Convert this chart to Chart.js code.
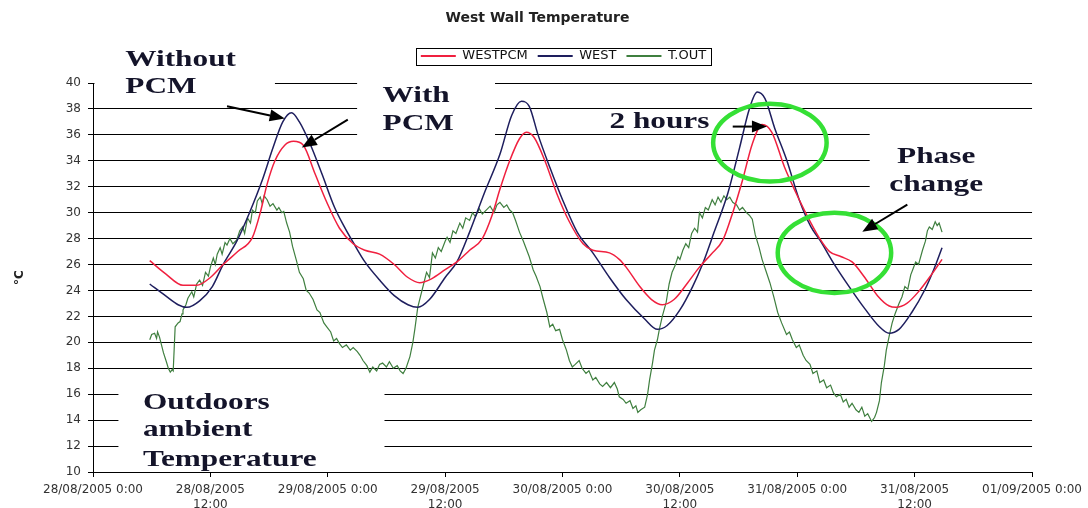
<!DOCTYPE html>
<html>
<head>
<meta charset="utf-8">
<script src="https://cdn.jsdelivr.net/npm/chart.js@4.4.1/dist/chart.umd.min.js"></script>
<style>
  body { margin: 0; background: #fff; }
  canvas { display: block; }
</style>
</head>
<body>
<canvas id="wallChart" width="1088" height="508"></canvas>
<script>
// hours since 28/08/2005 0:00, temperature in °C
const westPcm = [
    [5.8,26.3],[7.4,25.3],[9.2,24.4],[10.6,24.4],[12.0,25.0],[13.3,26.0],[14.8,27.0],[16.3,28.1],
    [17.1,30.0],[17.8,32.2],[18.6,34.0],[19.6,35.2],[20.5,35.5],[21.5,35.2],[22.7,33.0],[23.9,30.8],
    [25.2,28.8],[26.6,27.6],[27.8,27.1],[29.3,26.8],[30.8,26.0],[32.2,25.0],[33.4,24.6],[34.6,24.9],
    [36.0,25.6],[37.2,26.2],[38.5,27.1],[39.8,28.0],[40.8,29.8],[41.6,31.8],[42.6,34.0],[43.6,35.7],
    [44.3,36.2],[45.1,35.8],[46.2,34.0],[47.4,31.5],[48.7,29.3],[50.1,27.6],[51.1,27.1],[52.8,26.9],
    [53.8,26.4],[54.5,25.8],[55.9,24.3],[57.1,23.3],[58.2,22.9],[59.4,23.3],[60.8,24.6],[62.0,25.8],
    [63.2,26.8],[64.4,27.9],[65.4,30.0],[66.4,32.5],[67.4,35.3],[68.4,36.8],[69.4,36.2],[70.7,33.5],
    [72.2,31.0],[73.4,29.2],[74.3,28.0],[75.3,27.0],[76.5,26.6],[77.6,26.2],[78.9,25.0],[80.2,23.6],
    [81.4,22.8],[82.1,22.7],[83.2,23.0],[84.5,24.0],[85.7,25.2],[86.8,26.4]
];

const west = [
    [5.8,24.5],[7.4,23.6],[8.7,22.9],[9.6,22.7],[10.9,23.2],[12.2,24.3],[13.3,26.0],[14.7,27.8],
    [16.0,30.0],[17.3,32.5],[18.4,35.0],[19.4,37.0],[20.3,37.7],[21.1,37.0],[22.2,35.3],[23.4,33.0],
    [24.7,30.4],[25.7,28.9],[26.6,27.7],[27.8,26.2],[29.3,24.8],[30.8,23.6],[32.2,22.9],[33.2,22.7],
    [34.4,23.3],[36.0,25.0],[37.2,26.2],[38.5,28.5],[40.0,31.5],[41.6,34.5],[42.8,37.5],[43.8,38.6],
    [44.6,38.2],[45.5,36.0],[46.7,33.5],[48.0,31.0],[49.5,28.5],[51.1,26.9],[52.8,25.0],[54.5,23.3],
    [56.4,21.8],[57.7,21.0],[58.7,21.3],[60.0,22.5],[61.3,24.3],[62.3,26.0],[63.5,28.5],[64.9,31.5],
    [66.1,35.0],[67.1,38.0],[67.9,39.3],[68.7,38.8],[69.7,36.5],[70.9,34.1],[72.2,31.0],[73.4,28.9],
    [74.3,27.9],[75.8,26.0],[77.3,24.3],[78.9,22.6],[80.4,21.2],[81.4,20.7],[82.4,21.0],[83.7,22.3],
    [85.0,24.0],[86.0,25.7],[86.8,27.3]
];

const tOut = [
    [5.8,20.2],[6.0,20.6],[6.3,20.7],[6.5,20.3],[6.6,20.8],[6.8,20.4],[7.0,19.8],[7.2,19.2],[7.5,18.5],
    [7.7,18.0],[7.9,17.7],[8.1,17.9],[8.2,17.8],[8.3,19.5],[8.4,21.2],[8.7,21.5],[8.9,21.6],[9.1,22.2],
    [9.2,22.5],[9.5,22.9],[9.7,23.4],[10.1,23.9],[10.3,23.5],[10.6,24.5],[10.9,24.8],[11.2,24.4],
    [11.5,25.4],[11.8,25.1],[12.0,25.8],[12.3,26.5],[12.5,26.0],[12.7,26.8],[13.0,27.3],[13.2,26.8],
    [13.5,27.7],[13.7,27.5],[14.0,28.0],[14.3,27.6],[14.7,27.9],[15.0,28.6],[15.3,28.9],[15.5,28.4],
    [15.8,29.6],[16.1,29.2],[16.3,30.2],[16.6,30.0],[16.8,30.9],[17.1,31.2],[17.3,30.7],[17.5,31.3],
    [17.8,31.0],[18.1,30.5],[18.4,30.7],[18.8,30.2],[19.0,30.4],[19.3,30.0],[19.5,30.1],[19.8,29.2],
    [20.1,28.5],[20.4,27.4],[20.8,26.3],[21.1,25.4],[21.5,24.9],[21.8,24.0],[22.1,23.8],[22.5,23.3],
    [22.9,22.5],[23.2,22.3],[23.6,21.5],[23.9,21.2],[24.3,20.8],[24.6,20.1],[24.9,20.3],[25.2,19.9],
    [25.5,19.6],[25.9,19.8],[26.3,19.4],[26.6,19.6],[27.0,19.3],[27.3,19.0],[27.6,18.6],[28.0,18.2],
    [28.3,17.7],[28.6,18.1],[29.0,17.8],[29.3,18.3],[29.6,18.4],[30.0,18.1],[30.3,18.5],[30.7,18.0],
    [31.1,18.2],[31.4,17.8],[31.7,17.6],[32.0,18.0],[32.4,18.9],[32.7,20.0],[32.9,21.0],[33.2,22.7],
    [33.5,23.6],[33.8,24.5],[34.1,25.4],[34.4,25.0],[34.7,26.9],[35.0,26.5],[35.3,27.3],[35.6,27.0],
    [36.0,27.8],[36.2,28.1],[36.5,27.7],[36.8,28.6],[37.1,28.4],[37.5,29.2],[37.8,28.8],[38.1,29.6],
    [38.5,29.4],[38.8,30.0],[39.1,29.7],[39.5,30.3],[39.8,29.9],[40.2,30.2],[40.6,30.5],[41.0,30.0],
    [41.3,30.6],[41.6,30.8],[42.0,30.4],[42.3,30.6],[42.6,30.2],[42.9,30.0],[43.2,29.4],[43.6,28.5],
    [44.0,27.8],[44.3,27.2],[44.6,26.6],[45.0,25.6],[45.3,25.1],[45.7,24.3],[46.0,23.4],[46.4,22.3],
    [46.7,21.2],[47.0,21.4],[47.3,20.9],[47.7,21.0],[48.0,20.2],[48.4,19.4],[48.7,18.6],[49.0,18.1],
    [49.3,18.3],[49.7,18.6],[50.0,18.0],[50.4,17.6],[50.7,17.8],[51.1,17.1],[51.4,17.3],[51.8,16.8],
    [52.1,16.6],[52.5,16.9],[52.9,16.5],[53.3,16.9],[53.6,16.4],[53.8,15.8],[54.2,15.6],[54.5,15.3],
    [54.9,15.5],[55.2,14.9],[55.5,15.1],[55.7,14.6],[56.0,14.8],[56.4,15.0],[56.7,16.0],[56.9,17.1],
    [57.2,18.4],[57.4,19.4],[57.7,20.2],[57.9,21.0],[58.2,22.0],[58.6,23.1],[58.9,24.5],[59.2,25.4],
    [59.5,25.9],[59.8,26.6],[60.0,26.4],[60.3,27.1],[60.6,27.6],[60.9,27.3],[61.2,28.4],[61.5,28.8],
    [61.8,28.5],[62.0,30.0],[62.3,29.6],[62.6,30.4],[62.9,30.2],[63.3,31.0],[63.6,30.6],[63.9,31.2],
    [64.2,30.8],[64.5,31.3],[64.8,31.0],[65.1,31.2],[65.4,30.8],[65.8,30.6],[66.1,30.2],[66.4,30.4],
    [66.8,30.0],[67.1,29.8],[67.4,29.5],[67.7,28.3],[68.1,27.3],[68.4,26.4],[68.8,25.5],[69.2,24.6],
    [69.6,23.5],[70.0,22.3],[70.4,21.5],[70.9,20.6],[71.2,20.8],[71.5,20.2],[71.9,19.6],[72.2,19.8],
    [72.6,19.0],[72.9,18.6],[73.3,18.3],[73.6,17.6],[74.0,17.8],[74.3,16.9],[74.7,17.1],[75.0,16.5],
    [75.4,16.7],[75.7,16.1],[76.0,15.8],[76.4,16.0],[76.7,15.4],[77.0,15.6],[77.3,15.0],[77.6,15.3],
    [78.0,14.8],[78.3,14.6],[78.6,15.0],[78.9,14.3],[79.2,14.5],[79.6,13.9],[79.9,14.2],[80.1,14.6],
    [80.4,15.5],[80.6,16.9],[80.9,18.2],[81.1,19.4],[81.4,20.5],[81.7,21.5],[82.0,22.2],[82.4,23.0],
    [82.7,23.5],[83.0,24.3],[83.3,24.1],[83.6,25.2],[83.8,25.6],[84.1,26.2],[84.4,26.0],[84.8,27.1],
    [85.1,27.8],[85.3,28.6],[85.5,28.9],[85.8,28.7],[86.1,29.3],[86.3,29.0],[86.5,29.2],[86.8,28.5]
];

const tickLabels = [
    '28/08/2005 0:00', ['28/08/2005', '12:00'],
    '29/08/2005 0:00', ['29/08/2005', '12:00'],
    '30/08/2005 0:00', ['30/08/2005', '12:00'],
    '31/08/2005 0:00', ['31/08/2005', '12:00'],
    '01/09/2005 0:00'
];

// annotation text, placed in data units (hour, °C)
const noteTexts = [
    { text: 'Without', h: 3.3, v: 41.8 },
    { text: 'PCM', h: 3.3, v: 39.65 },
    { text: 'With', h: 29.6, v: 38.96 },
    { text: 'PCM', h: 29.6, v: 36.8 },
    { text: '2 hours', h: 52.8, v: 37.0 },
    { text: 'Phase', h: 86.2, v: 34.3, align: 'center' },
    { text: 'change', h: 86.2, v: 32.1, align: 'center' },
    { text: 'Outdoors', h: 5.1, v: 15.3 },
    { text: 'ambient', h: 5.1, v: 13.2 },
    { text: 'Temperature', h: 5.1, v: 10.9 }
];
const noteArrows = [
    [13.7, 38.2, 19.6, 37.26],
    [26.05, 37.18, 21.35, 35.02],
    [65.4, 36.64, 68.9, 36.64],
    [83.25, 30.62, 78.65, 28.53]
];
const noteRings = [
    [69.2, 35.4, 5.8, 3.0],
    [75.8, 26.9, 5.8, 3.1]
];
// white text boxes that hide parts of the gridlines: h0, h1, v0, v1
const textBoxes = [
    [0.15, 18.6, 38.5, 40.6],
    [27.0, 41.1, 34.9, 40.6],
    [79.4, 96.5, 30.6, 37.2],
    [2.6, 29.8, 10.15, 17.1]
];

const toXY = arr => arr.map(p => ({ x: p[0], y: p[1] }));

const notesPlugin = {
    id: 'notes',
    afterLayout(chart) {
        // the scanned figure has its header a bit right of centre
        const shift = (box, dx) => {
            box.left += dx;
            box.right += dx;
            (box.legendHitBoxes || []).forEach(h => { h.left += dx; });
        };
        shift(chart.titleBlock, 21);
        shift(chart.legend, 47);
    },
    beforeDatasetsDraw(chart) {
        const { ctx, scales: { x, y } } = chart;
        ctx.save();
        ctx.fillStyle = '#fff';
        textBoxes.forEach(b => {
            const x0 = x.getPixelForValue(b[0]), x1 = x.getPixelForValue(b[1]);
            const y0 = y.getPixelForValue(b[3]), y1 = y.getPixelForValue(b[2]);
            ctx.fillRect(x0, y0, x1 - x0, y1 - y0);
        });
        ctx.restore();
    },
    afterDraw(chart) {
        const { ctx, scales: { x, y } } = chart;
        ctx.save();

        // legend frame
        const lg = chart.legend;
        const boxes = lg.legendHitBoxes;
        if (boxes && boxes.length) {
            const w = boxes[boxes.length - 1].left + boxes[boxes.length - 1].width - boxes[0].left;
            const l = (lg.left + lg.right) / 2 - w / 2 - 5;
            const t = Math.min(...boxes.map(b => b.top)) - 2;
            const bt = Math.max(...boxes.map(b => b.top + b.height)) + 2;
            ctx.strokeStyle = '#000';
            ctx.lineWidth = 1;
            ctx.strokeRect(Math.round(l) + 0.5, Math.round(t) + 0.5, Math.round(w + 10), Math.round(bt - t));
        }

        // green rings
        ctx.strokeStyle = '#35e035';
        ctx.lineWidth = 4.5;
        noteRings.forEach(e => {
            const cx = x.getPixelForValue(e[0]), cy = y.getPixelForValue(e[1]);
            const rx = x.getPixelForValue(e[0] + e[2]) - cx;
            const ry = cy - y.getPixelForValue(e[1] + e[3]);
            ctx.beginPath();
            ctx.ellipse(cx, cy, rx, ry, 0, 0, Math.PI * 2);
            ctx.stroke();
        });

        // arrows
        ctx.strokeStyle = '#000';
        ctx.fillStyle = '#000';
        ctx.lineWidth = 2;
        noteArrows.forEach(a => {
            const x0 = x.getPixelForValue(a[0]), y0 = y.getPixelForValue(a[1]);
            const x1 = x.getPixelForValue(a[2]), y1 = y.getPixelForValue(a[3]);
            const ang = Math.atan2(y1 - y0, x1 - x0);
            const len = 15, half = 6;
            const bx = x1 - len * Math.cos(ang), by = y1 - len * Math.sin(ang);
            ctx.beginPath();
            ctx.moveTo(x0, y0);
            ctx.lineTo(bx, by);
            ctx.stroke();
            ctx.beginPath();
            ctx.moveTo(x1, y1);
            ctx.lineTo(bx + half * Math.sin(ang), by - half * Math.cos(ang));
            ctx.lineTo(bx - half * Math.sin(ang), by + half * Math.cos(ang));
            ctx.closePath();
            ctx.fill();
        });

        // serif labels, stretched sideways like the scanned figure
        ctx.fillStyle = '#14142a';
        ctx.font = 'bold 23px "Liberation Serif", "DejaVu Serif", serif';
        ctx.textBaseline = 'middle';
        noteTexts.forEach(n => {
            ctx.save();
            ctx.translate(x.getPixelForValue(n.h), y.getPixelForValue(n.v));
            ctx.scale(1.36, 1);
            ctx.textAlign = n.align || 'left';
            ctx.fillText(n.text, 0, 0);
            ctx.restore();
        });

        ctx.restore();
    }
};

const axisFont = { family: 'DejaVu Sans', size: 12 };

const ctx = document.getElementById('wallChart').getContext('2d');
const wallChart = new Chart(ctx, {
    type: 'line',
    data: {
        datasets: [{
            label: 'WESTPCM',
            data: toXY(westPcm),
            borderColor: '#f0203f',
            backgroundColor: '#f0203f',
            borderWidth: 1.5,
            pointRadius: 0,
            cubicInterpolationMode: 'monotone'
        }, {
            label: 'WEST',
            data: toXY(west),
            borderColor: '#1e1e5e',
            backgroundColor: '#1e1e5e',
            borderWidth: 1.5,
            pointRadius: 0,
            cubicInterpolationMode: 'monotone'
        }, {
            label: 'T.OUT',
            data: toXY(tOut),
            borderColor: '#3f7f3f',
            backgroundColor: '#3f7f3f',
            borderWidth: 1.2,
            pointRadius: 0,
            tension: 0
        }]
    },
    options: {
        responsive: false,
        animation: false,
        devicePixelRatio: 1,
        layout: { padding: { left: 0, right: 55, top: 0, bottom: 0 } },
        plugins: {
            title: {
                display: true,
                text: 'West Wall Temperature',
                color: '#222',
                font: { family: 'DejaVu Sans', size: 14, weight: 'bold' },
                padding: { top: 10, bottom: 12.7 }
            },
            legend: {
                display: true,
                labels: {
                    boxWidth: 35,
                    boxHeight: 2,
                    padding: 10,
                    color: '#111',
                    font: { family: 'DejaVu Sans', size: 13 },
                    generateLabels: chart =>
                        Chart.defaults.plugins.legend.labels.generateLabels(chart)
                            .map(l => Object.assign(l, { lineWidth: 0 }))
                }
            },
            tooltip: { enabled: false }
        },
        scales: {
            x: {
                type: 'linear',
                min: 0,
                max: 96,
                ticks: {
                    stepSize: 12,
                    autoSkip: false,
                    maxRotation: 0,
                    color: '#333',
                    font: axisFont,
                    padding: 6,
                    callback: v => tickLabels[Math.round(v / 12)]
                },
                grid: { drawOnChartArea: false, tickLength: 5, color: '#000' },
                border: { color: '#000' },
                afterFit: s => { s.height = 36; }
            },
            xTop: {
                type: 'linear',
                position: 'top',
                display: true,
                ticks: { display: false },
                grid: { display: false },
                border: { display: false },
                afterFit: s => { s.height = 10.5; }
            },
            y: {
                min: 10,
                max: 40,
                ticks: {
                    stepSize: 2,
                    color: '#333',
                    font: axisFont,
                    padding: 7
                },
                grid: { color: '#000', lineWidth: 1, tickLength: 5 },
                border: { color: '#000' },
                title: {
                    display: true,
                    text: '°C',
                    color: '#222',
                    font: { family: 'DejaVu Sans', size: 12, weight: 'bold' },
                    padding: { top: 13, bottom: 0 }
                },
                afterFit: s => { s.width = 93; }
            }
        }
    },
    plugins: [notesPlugin]
});
</script>
</body>
</html>
